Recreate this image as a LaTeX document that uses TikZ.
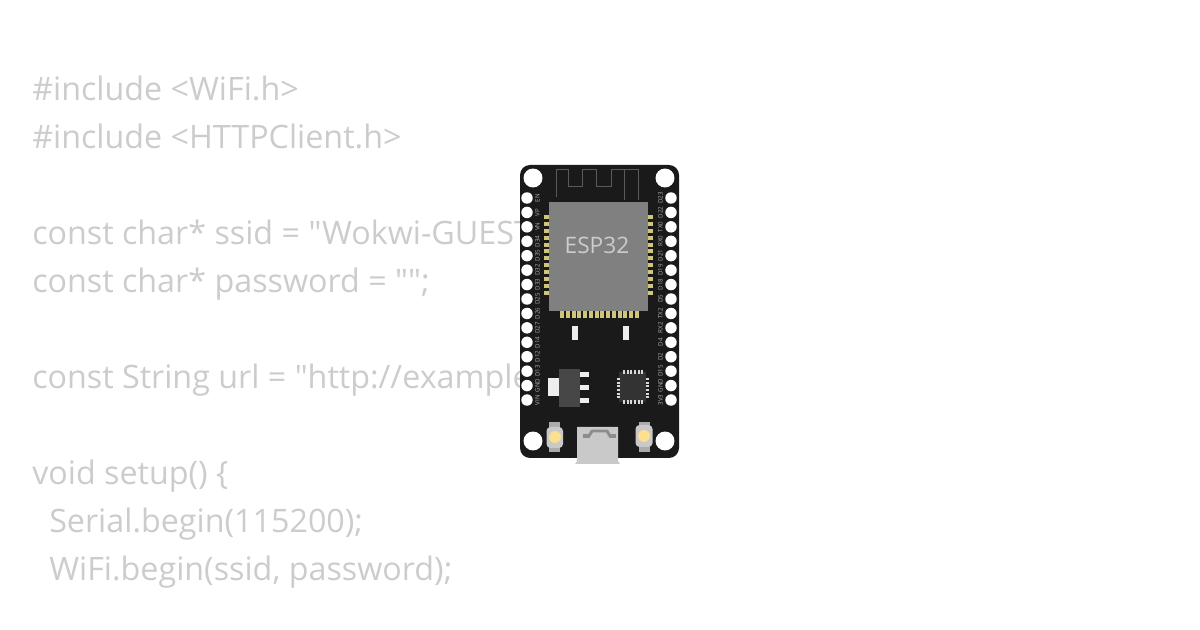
\documentclass[tikz,border=0pt]{standalone}
\usepackage{fontspec}
\newfontfamily\codefont{Open Sans}
\definecolor{codegray}{HTML}{CCCCCC}
\definecolor{boardblack}{HTML}{1A1A1A}
\definecolor{chipgray}{HTML}{808080}
\definecolor{goldpad}{HTML}{CFC67C}
\definecolor{ledgold}{HTML}{FBE08F}
\definecolor{metalgray}{HTML}{C9C9C9}
\tikzset{
codeline/.style={anchor=base west,inner sep=0pt,text=codegray,font=\codefont\fontsize{24.2pt}{24pt}\selectfont},
pinlabel/.style={rotate=90,inner sep=0pt,text=black!32,font=\codefont\fontsize{4.6pt}{5pt}\selectfont},
pinhole/.style={shape=circle,fill=white,inner sep=0pt,minimum size=8.6pt},
cornerhole/.style={shape=circle,fill=white,inner sep=0pt,minimum size=14.2pt}
}

\begin{document}
\begin{tikzpicture}[x=0.75pt,y=-0.75pt]
\useasboundingbox (0,0) rectangle (1200,630);
\path
(32,100.7) node [codeline](incwifi) {\#include <WiFi.h>}
(32,148.7) node [codeline](inchttp) {\#include <HTTPClient.h>}
(32,244.7) node [codeline](ssid) {const char* ssid = "Wokwi-GUEST}
(32,292.7) node [codeline](password) {const char* password = "";}
(32,388.7) node [codeline](url) {const String url = "http://example}
(32,484.7) node [codeline](setup) {void setup() \{}
(49,532.7) node [codeline](serial) {Serial.begin(115200);}
(49,580.7) node [codeline](wifibegin) {WiFi.begin(ssid, password);};
% board
\fill [boardblack,rounded corners=7.5pt] (520,165) rectangle (679,458);
\path
(533,178) node [cornerhole](holea) {}
(665,178) node [cornerhole](holeb) {}
(533,441) node [cornerhole](holec) {}
(665,441) node [cornerhole](holed) {};
% antenna
\draw [line width=0.75pt,color=chipgray!70!black] (556,197) -- (556,170) -- (568,170) -- (568,187) -- (582,187) -- (582,170) -- (596,170) -- (596,187) -- (611,187) -- (611,170) -- (638,170) -- (638,200);
\draw [line width=0.75pt,color=chipgray!70!black] (624,170) -- (624,200);
% pins
\foreach \pinname [count=\i from 0] in {EN,VP,VN,D34,D35,D32,D33,D25,D26,D27,D14,D12,D13,GND,VIN}{
\path (527,{198+14.43*\i}) node [pinhole](left\i) {}
(537.5,{198+14.43*\i}) node [pinlabel](leftlabel\i) {\pinname};
}
\foreach \pinname [count=\i from 0] in {D23,D22,TX0,RX0,D21,D19,D18,D5,TX2,RX2,D4,D2,D15,GND,3V3}{
\path (671,{198+14.43*\i}) node [pinhole](right\i) {}
(660.5,{198+14.43*\i}) node [pinlabel](rightlabel\i) {\pinname};
}
% module
\foreach \i in {0,...,11}{
\fill [goldpad] (544,{215+6.9*\i}) rectangle (550,{219+6.9*\i});
\fill [goldpad] (647,{215+6.9*\i}) rectangle (653,{219+6.9*\i});
}
\foreach \i in {0,...,13}{
\fill [goldpad] ({560+5.76*\i},311) rectangle ({564+5.76*\i},318);
}
\path (549,202) node [shape=rectangle,fill=chipgray,anchor=north west,inner sep=0pt,minimum width=74.25pt,minimum height=81.75pt](module) {};
\node [text=codegray,font=\codefont\fontsize{17pt}{17pt}\selectfont](modulename) at (597,245) {ESP32};
% small parts
\fill [white!93!black] (572,326) rectangle (578,340);
\fill [white!93!black] (623,326) rectangle (629,340);
\fill [white!93!black] (548,378) rectangle (560,396);
\fill [white!93!black] (579,372) rectangle (589,377);
\fill [white!93!black] (579,385) rectangle (589,390);
\fill [white!93!black] (579,398) rectangle (589,403);
\fill [color=black!72] (559,369) rectangle (580,407);
\fill [color=black!80] (619,372) rectangle (646,402);
\foreach \i in {0,...,5}{
\fill [white!85!black] ({623.2+3.6*\i},370.5) rectangle ({625.2+3.6*\i},374);
\fill [white!85!black] ({623.2+3.6*\i},400.5) rectangle ({625.2+3.6*\i},404);
\fill [white!85!black] (616.5,{378.2+3.6*\i}) rectangle (620,{380.2+3.6*\i});
\fill [white!85!black] (645.5,{378.2+3.6*\i}) rectangle (649,{380.2+3.6*\i});
}
% buttons
\fill [metalgray!85!black] (549,422) rectangle (560,452);
\fill [metalgray,rounded corners=3pt] (546.5,427) rectangle (563,448);
\fill [color=ledgold] (555,437) circle [radius=6];
\fill [metalgray!85!black] (639,422) rectangle (650,452);
\fill [metalgray,rounded corners=3pt] (635.5,425) rectangle (652.5,447);
\fill [color=ledgold] (644,436) circle [radius=6];
% usb
\fill [metalgray] (577,427) -- (618,427) -- (618,461) -- (620,464) -- (575,464) -- (577,461) -- cycle;
\draw [line width=2.2pt,color=chipgray!90!white,line join=round] (589,436) -- (592,431) -- (607,431) -- (610,436);
\draw [line width=3.6pt,color=chipgray!90!white] (583,436) -- (590,436);
\draw [line width=3.6pt,color=chipgray!90!white] (609,436) -- (616,436);
\end{tikzpicture}
\end{document}
